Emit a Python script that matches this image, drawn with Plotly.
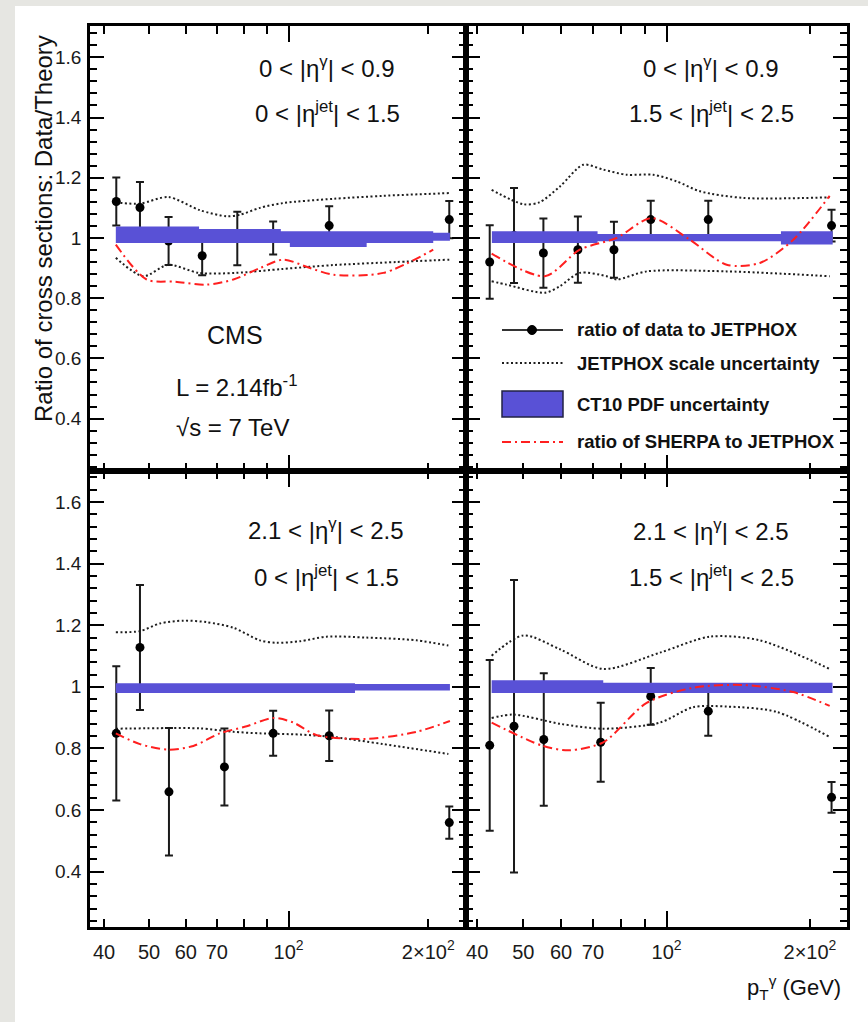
import plotly.graph_objects as go

# ---------------- data ----------------
X_TOP = [42.5, 47.8, 55.1, 65.1, 77.5, 92.6, 122.3, 222.0]
X_BOT = [42.5, 47.8, 55.2, 72.7, 92.6, 122.3, 222.0]

# top-left: 0<|eta_g|<0.9, 0<|eta_jet|<1.5
TL_RATIO = [1.121, 1.101, 0.990, 0.941, 0.998, 1.000, 1.041, 1.061]
TL_ERR = [0.080, 0.085, 0.080, 0.065, 0.089, 0.055, 0.064, 0.062]
TL_UP_X = [42.4, 47.8, 55.0, 64.4, 73.5, 78.5, 86.7, 97.4, 124.8, 160.0, 222.0]
TL_UP_Y = [1.118, 1.114, 1.136, 1.092, 1.072, 1.077, 1.100, 1.116, 1.130, 1.140, 1.149]
TL_LO_X = [42.4, 48.6, 55.0, 64.0, 77.0, 97.0, 125.0, 170.0, 222.0]
TL_LO_Y = [0.934, 0.873, 0.911, 0.884, 0.884, 0.897, 0.910, 0.920, 0.928]
TL_SH_X = [42.4, 49.4, 57.0, 66.6, 76.0, 86.7, 97.4, 111.2, 124.8, 160.0, 205.0]
TL_SH_Y = [0.978, 0.862, 0.855, 0.845, 0.862, 0.900, 0.928, 0.900, 0.878, 0.884, 0.961]
TL_PDF_EDGES = [42.4, 64.1, 96.2, 100.6, 147.3, 205.0, 222.7]
TL_PDF_HI = [1.038, 1.030, 1.022, 1.022, 1.022, 1.017]
TL_PDF_LO = [0.983, 0.983, 0.983, 0.970, 0.983, 0.991]

# top-right: 0<|eta_g|<0.9, 1.5<|eta_jet|<2.5
TR_RATIO = [0.920, 1.008, 0.950, 0.961, 0.961, 1.061, 1.061, 1.041]
TR_ERR = [0.122, 0.158, 0.115, 0.110, 0.093, 0.063, 0.063, 0.053]
TR_UP_X = [42.9, 50.0, 54.0, 59.7, 66.8, 73.6, 82.4, 93.7, 105.0, 117.5, 144.8, 220.0]
TR_UP_Y = [1.160, 1.112, 1.118, 1.171, 1.243, 1.227, 1.210, 1.210, 1.188, 1.155, 1.133, 1.135]
TR_LO_X = [42.9, 46.1, 55.5, 59.7, 65.7, 74.8, 78.5, 90.8, 133.7, 220.0]
TR_LO_Y = [0.856, 0.845, 0.818, 0.840, 0.884, 0.873, 0.862, 0.889, 0.889, 0.873]
TR_SH_X = [42.9, 55.5, 65.7, 78.5, 93.0, 111.9, 133.7, 157.0, 184.5, 220.0]
TR_SH_Y = [0.948, 0.873, 0.961, 1.000, 1.066, 0.994, 0.911, 0.917, 0.994, 1.140]
TR_PDF_EDGES = [42.95, 71.6, 173.8, 223.2]
TR_PDF_HI = [1.022, 1.013, 1.022]
TR_PDF_LO = [0.983, 0.989, 0.978]

# bottom-left: 2.1<|eta_g|<2.5, 0<|eta_jet|<1.5
BL_RATIO = [0.849, 1.128, 0.659, 0.740, 0.849, 0.841, 0.559]
BL_ERR = [0.218, 0.203, 0.207, 0.125, 0.073, 0.082, 0.052]
BL_UP_X = [42.4, 47.8, 52.8, 59.3, 66.6, 76.0, 86.7, 94.2, 105.8, 120.7, 147.3, 188.8, 221.0]
BL_UP_Y = [1.177, 1.181, 1.206, 1.215, 1.210, 1.192, 1.151, 1.143, 1.148, 1.163, 1.160, 1.151, 1.134]
BL_LO_X = [42.4, 55.0, 64.4, 76.0, 86.7, 105.8, 124.8, 160.0, 221.0]
BL_LO_Y = [0.864, 0.866, 0.865, 0.854, 0.849, 0.845, 0.837, 0.814, 0.782]
BL_SH_X = [42.4, 47.8, 55.0, 62.3, 71.1, 81.2, 92.6, 102.3, 115.0, 147.3, 188.8, 222.7]
BL_SH_Y = [0.849, 0.814, 0.796, 0.808, 0.849, 0.872, 0.899, 0.884, 0.843, 0.831, 0.854, 0.889]
BL_PDF_EDGES = [42.4, 139.0, 222.7]
BL_PDF_HI = [1.012, 1.009]
BL_PDF_LO = [0.980, 0.988]

# bottom-right: 2.1<|eta_g|<2.5, 1.5<|eta_jet|<2.5
BR_RATIO = [0.810, 0.872, 0.829, 0.820, 0.969, 0.921, 0.641]
BR_ERR = [0.277, 0.475, 0.215, 0.128, 0.092, 0.080, 0.050]
BR_UP_X = [42.9, 50.0, 59.7, 73.6, 96.8, 123.3, 157.0, 220.0]
BR_UP_Y = [1.101, 1.167, 1.122, 1.058, 1.111, 1.163, 1.151, 1.058]
BR_LO_X = [42.9, 47.6, 59.7, 73.6, 96.8, 113.7, 133.7, 170.0, 220.0]
BR_LO_Y = [0.899, 0.910, 0.880, 0.864, 0.884, 0.934, 0.936, 0.919, 0.837]
BR_SH_X = [42.9, 55.0, 62.6, 73.6, 90.8, 113.7, 144.8, 184.5, 220.0]
BR_SH_Y = [0.884, 0.808, 0.794, 0.820, 0.948, 0.997, 1.006, 0.983, 0.938]
BR_PDF_EDGES = [42.9, 73.6, 223.0]
BR_PDF_HI = [1.021, 1.013]
BR_PDF_LO = [0.980, 0.980]

XTICK_VALS = [40, 50, 60, 70, 80, 90, 100, 200]
XTICK_TEXT = ["40", "50", "60", "70", " ", " ", "10<sup>2</sup>", "2\u00d710<sup>2</sup>"]

REGION_TEXT = {
    "TL": ["0 < |\u03b7<sup>\u03b3</sup>| < 0.9", "0 < |\u03b7<sup>jet</sup>| < 1.5"],
    "TR": ["0 < |\u03b7<sup>\u03b3</sup>| < 0.9", "1.5 < |\u03b7<sup>jet</sup>| < 2.5"],
    "BL": ["2.1 < |\u03b7<sup>\u03b3</sup>| < 2.5", "0 < |\u03b7<sup>jet</sup>| < 1.5"],
    "BR": ["2.1 < |\u03b7<sup>\u03b3</sup>| < 2.5", "1.5 < |\u03b7<sup>jet</sup>| < 2.5"],
}
LEGEND_LABELS = ["ratio of data to JETPHOX", "JETPHOX scale uncertainty",
                 "CT10 PDF uncertainty", "ratio of SHERPA to JETPHOX"]

# ---------------- layout constants ----------------
W, H = 868, 1022
FONT = "Liberation Sans, Arial, Helvetica, sans-serif"
BLUE = "rgb(89,81,214)"
RED = "#ff1f1f"
DOT_COLOR = "#1e1e1e"
DOT_DASH = "2px,2.5px"
SHERPA_DASH = "9px,4px,2px,4px"


def fx(p):
    return p / W


def fy(p):
    return 1 - p / H


PX = {"L": (90, 466), "R": (466, 847)}
PY = {"T": (26, 471), "B": (471, 927)}
XR = {"L": [1.5717, 2.3824], "R": [1.5786, 2.3788]}
YR = {"T": [0.226, 1.704], "B": [0.220, 1.701]}

panels = {
    "TL": dict(ax="", col="L", row="T", x=X_TOP, r=TL_RATIO, e=TL_ERR, ux=TL_UP_X, uy=TL_UP_Y,
               lx=TL_LO_X, ly=TL_LO_Y, sx=TL_SH_X, sy=TL_SH_Y,
               pe=TL_PDF_EDGES, ph=TL_PDF_HI, pl=TL_PDF_LO),
    "TR": dict(ax="2", col="R", row="T", x=X_TOP, r=TR_RATIO, e=TR_ERR, ux=TR_UP_X, uy=TR_UP_Y,
               lx=TR_LO_X, ly=TR_LO_Y, sx=TR_SH_X, sy=TR_SH_Y,
               pe=TR_PDF_EDGES, ph=TR_PDF_HI, pl=TR_PDF_LO),
    "BL": dict(ax="3", col="L", row="B", x=X_BOT, r=BL_RATIO, e=BL_ERR, ux=BL_UP_X, uy=BL_UP_Y,
               lx=BL_LO_X, ly=BL_LO_Y, sx=BL_SH_X, sy=BL_SH_Y,
               pe=BL_PDF_EDGES, ph=BL_PDF_HI, pl=BL_PDF_LO),
    "BR": dict(ax="4", col="R", row="B", x=X_BOT, r=BR_RATIO, e=BR_ERR, ux=BR_UP_X, uy=BR_UP_Y,
               lx=BR_LO_X, ly=BR_LO_Y, sx=BR_SH_X, sy=BR_SH_Y,
               pe=BR_PDF_EDGES, ph=BR_PDF_HI, pl=BR_PDF_LO),
}

fig = go.Figure()


def band_polygon(edges, hi, lo):
    xs, ys = [], []
    for i in range(len(hi)):
        xs += [edges[i], edges[i + 1]]
        ys += [hi[i], hi[i]]
    for i in reversed(range(len(lo))):
        xs += [edges[i + 1], edges[i]]
        ys += [lo[i], lo[i]]
    return xs, ys


for key, p in panels.items():
    xa, ya = "x" + p["ax"], "y" + p["ax"]
    common = dict(xaxis=xa, yaxis=ya, showlegend=False, hoverinfo="skip")
    # scale uncertainty
    for cx, cy in ((p["ux"], p["uy"]), (p["lx"], p["ly"])):
        fig.add_trace(go.Scatter(x=cx, y=cy, mode="lines",
                                 line=dict(color=DOT_COLOR, width=2, dash=DOT_DASH,
                                           shape="spline", smoothing=0.8), **common))
    # data
    fig.add_trace(go.Scatter(x=p["x"], y=p["r"], mode="markers",
                             marker=dict(color="black", size=9),
                             error_y=dict(type="data", array=p["e"], color="#1a1a1a",
                                          thickness=2, width=4), **common))
    # PDF band
    bx, by = band_polygon(p["pe"], p["ph"], p["pl"])
    fig.add_trace(go.Scatter(x=bx, y=by, mode="lines", fill="toself", fillcolor=BLUE,
                             line=dict(width=0, color=BLUE), **common))
    # SHERPA
    fig.add_trace(go.Scatter(x=p["sx"], y=p["sy"], mode="lines",
                             line=dict(color=RED, width=2, dash=SHERPA_DASH,
                                       shape="spline", smoothing=0.8), **common))

ytickfont = dict(family=FONT, size=19, color="#1a1a1a")
xtickfont = dict(family=FONT, size=20, color="#1a1a1a")
layout_axes = {}
for key, p in panels.items():
    x0, x1 = PX[p["col"]]
    y0, y1 = PY[p["row"]]
    xname = "xaxis" + p["ax"]
    yname = "yaxis" + p["ax"]
    layout_axes[xname] = dict(
        type="log", domain=[fx(x0), fx(x1)], range=XR[p["col"]], anchor="y" + p["ax"],
        showline=True, linewidth=2.5, linecolor="black", mirror="allticks",
        ticks="inside", ticklen=8, tickwidth=1.5, tickcolor="black",
        tickmode="array", tickvals=XTICK_VALS, ticktext=XTICK_TEXT,
        showticklabels=(p["row"] == "B"), tickfont=xtickfont, ticklabelstandoff=5,
        showgrid=False, zeroline=False,
        minor=dict(tickmode="array", tickvals=[100], ticks="inside", ticklen=16,
                   tickwidth=1.5, tickcolor="black", showgrid=False),
    )
    layout_axes[yname] = dict(
        domain=[fy(y1), fy(y0)], range=YR[p["row"]], anchor="x" + p["ax"],
        showline=True, linewidth=2.5, linecolor="black", mirror="allticks",
        ticks="inside", ticklen=14, tickwidth=2, tickcolor="black",
        tickmode="linear", tick0=0, dtick=0.2,
        showticklabels=(p["col"] == "L"), tickfont=ytickfont, ticklabelstandoff=2,
        showgrid=False, zeroline=False,
        minor=dict(ticks="inside", ticklen=7, tick0=0, dtick=0.04, tickwidth=1.5,
                   tickcolor="black", showgrid=False),
    )

annotations = []


def add_text(x, y, text, size, xanchor="center", yanchor="middle", angle=0, bold=False):
    annotations.append(dict(
        x=fx(x), y=fy(y), xref="paper", yref="paper", text=("<b>%s</b>" % text) if bold else text,
        showarrow=False, xanchor=xanchor, yanchor=yanchor, textangle=angle,
        font=dict(family=FONT, size=size, color="#111111")))


REGION_POS = {"TL": (327, 67, 112), "TR": (711, 67, 112), "BL": (326, 529, 576), "BR": (711, 530, 576)}
for key, (cx, y1, y2) in REGION_POS.items():
    add_text(cx, y1, REGION_TEXT[key][0], 24)
    add_text(cx, y2, REGION_TEXT[key][1], 24)

add_text(235, 335, "CMS", 25)
add_text(236, 386, "L = 2.14fb<sup>-1</sup>", 24)
add_text(232, 427, "\u221as = 7 TeV", 24)

add_text(44, 229, "Ratio of cross sections: Data/Theory", 24, angle=-90)
add_text(843, 987, "p<sub>T</sub><sup>\u03b3</sup> (GeV)", 22, xanchor="right")

# legend (drawn by hand inside the top-right panel)
LEG_X0, LEG_X1, LEG_TX = 502, 563, 575
LEG_ROWS = [330, 363, 404, 442]
shapes = [
    dict(type="rect", xref="paper", yref="paper", x0=fx(15), x1=1.0, y0=0.0, y1=fy(6),
         fillcolor="white", line=dict(width=0), layer="below"),
    dict(type="line", xref="paper", yref="paper", x0=fx(LEG_X0), x1=fx(LEG_X1),
         y0=fy(LEG_ROWS[0]), y1=fy(LEG_ROWS[0]), line=dict(color="#333333", width=2)),
    dict(type="circle", xref="paper", yref="paper", x0=fx(532 - 4.5), x1=fx(532 + 4.5),
         y0=fy(LEG_ROWS[0] + 4.5), y1=fy(LEG_ROWS[0] - 4.5), fillcolor="black",
         line=dict(color="black", width=1)),
    dict(type="line", xref="paper", yref="paper", x0=fx(LEG_X0), x1=fx(LEG_X1),
         y0=fy(LEG_ROWS[1]), y1=fy(LEG_ROWS[1]),
         line=dict(color=DOT_COLOR, width=2, dash=DOT_DASH)),
    dict(type="rect", xref="paper", yref="paper", x0=fx(LEG_X0), x1=fx(LEG_X1),
         y0=fy(LEG_ROWS[2] + 13), y1=fy(LEG_ROWS[2] - 13), fillcolor=BLUE,
         line=dict(color="#222244", width=1.5)),
    dict(type="line", xref="paper", yref="paper", x0=fx(LEG_X0), x1=fx(LEG_X1),
         y0=fy(LEG_ROWS[3]), y1=fy(LEG_ROWS[3]),
         line=dict(color=RED, width=2, dash=SHERPA_DASH)),
]
for label, ry in zip(LEGEND_LABELS, LEG_ROWS):
    add_text(LEG_TX, ry, label, 18.5, xanchor="left", bold=True)

fig.update_layout(
    width=W, height=H, margin=dict(l=0, r=0, t=0, b=0),
    paper_bgcolor="#e6e6e2", plot_bgcolor="rgba(0,0,0,0)",
    showlegend=False, annotations=annotations, shapes=shapes,
    **layout_axes,
)

fig.write_html("out.html")
